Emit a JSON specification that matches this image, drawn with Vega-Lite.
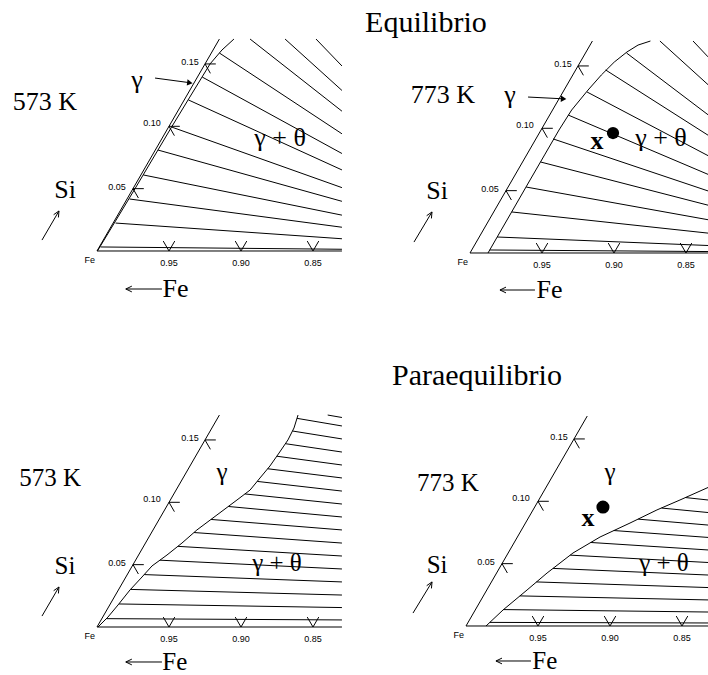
{
"$schema":"https://vega.github.io/schema/vega-lite/v6.json",
"padding":0,
"background":"white",
"config":{"view":{"stroke":null}},
"columns":2,
"spacing":0,
"bounds":"flush",
"resolve":{"scale":{"x":"independent","y":"independent"}},
"concat":[
{"width":354,"height":340,
"encoding":{"x":{"field":"u","type":"quantitative","scale":{"domain":[-6.736,17.847],"nice":false,"zero":false},"axis":null},
"y":{"field":"v","type":"quantitative","scale":{"domain":[-6.181,17.431],"nice":false,"zero":false},"axis":null}},
"layer":[
{"data":{"values":[
{"u":0,"v":0,"u2":8.5,"v2":14.72},{"u":0,"v":0,"u2":17.01,"v2":0},
{"u":0.24,"v":0.28,"u2":17.01,"v2":0.12},{"u":1.29,"v":1.94,"u2":17.01,"v2":0.85},{"u":2.26,"v":3.61,"u2":17.01,"v2":1.65},
{"u":3.22,"v":5.28,"u2":17.01,"v2":2.49},{"u":4.24,"v":7.01,"u2":17.01,"v2":3.45},{"u":5.18,"v":8.61,"u2":17.01,"v2":4.4},
{"u":6.35,"v":10.49,"u2":17.01,"v2":5.63},{"u":7.31,"v":12.08,"u2":17.01,"v2":6.77},{"u":8.5,"v":13.75,"u2":17.01,"v2":8.14},
{"u":10.63,"v":14.72,"u2":17.01,"v2":9.71},{"u":13.06,"v":14.72,"u2":17.01,"v2":11.15},{"u":15.21,"v":14.72,"u2":17.01,"v2":12.85},
{"u":2.5,"v":4.33,"u2":3.25,"v2":4.33},{"u":2.5,"v":4.33,"u2":2.875,"v2":3.68},{"u":5,"v":8.66,"u2":5.75,"v2":8.66},{"u":5,"v":8.66,"u2":5.375,"v2":8.01},{"u":7.5,"v":12.99,"u2":8.25,"v2":12.99},{"u":7.5,"v":12.99,"u2":7.875,"v2":12.34},
{"u":5,"v":0,"u2":4.6,"v2":0.69},{"u":5,"v":0,"u2":5.4,"v2":0.69},{"u":10,"v":0,"u2":9.6,"v2":0.69},{"u":10,"v":0,"u2":10.4,"v2":0.69},{"u":15,"v":0,"u2":14.6,"v2":0.69},{"u":15,"v":0,"u2":15.4,"v2":0.69},
{"u":4.03,"v":12.01,"u2":6.35,"v2":11.7},
{"u":-3.82,"v":0.76,"u2":-2.64,"v2":2.78},{"u":-2.64,"v":2.78,"u2":-2.68,"v2":2.33},{"u":-2.64,"v":2.78,"u2":-3.01,"v2":2.52},
{"u":2.0,"v":-2.64,"u2":4.51,"v2":-2.64},{"u":2.0,"v":-2.64,"u2":2.42,"v2":-2.44},{"u":2.0,"v":-2.64,"u2":2.42,"v2":-2.84}
]},"mark":{"type":"rule","color":"black","strokeWidth":1},"encoding":{"x2":{"field":"u2"},"y2":{"field":"v2"}}},
{"data":{"values":[
{"i":0,"u":0.03,"v":0},{"i":1,"u":2.63,"v":4.31},{"i":2,"u":5.18,"v":8.61},{"i":3,"u":6.41,"v":10.63},{"i":4,"u":7.85,"v":12.99},{"i":5,"u":8.68,"v":13.96},{"i":6,"u":9.51,"v":14.72}
]},"mark":{"type":"line","color":"black","strokeWidth":1},"encoding":{"order":{"field":"i","type":"quantitative"}}},
{"data":{"values":[
{"t":"0.15","u":6.46,"v":13.13},{"t":"0.10","u":3.82,"v":8.89},{"t":"0.05","u":1.39,"v":4.44},{"t":"0.95","u":5,"v":-0.8},{"t":"0.90","u":10,"v":-0.8},{"t":"0.85","u":15,"v":-0.8},{"t":"Fe","u":-0.5,"v":-0.65}
]},"mark":{"type":"text","font":"Liberation Sans","fontSize":9,"color":"black"},"encoding":{"text":{"field":"t"}}},
{"data":{"values":[
{"t":"573 K","u":-3.61,"v":10.35},{"t":"γ","u":2.78,"v":11.88},{"t":"γ + θ","u":12.71,"v":7.85},{"t":"Si","u":-2.22,"v":4.24},{"t":"Fe","u":5.45,"v":-2.64}
]},"mark":{"type":"text","font":"Liberation Serif","fontSize":26,"color":"black"},"encoding":{"text":{"field":"t"}}},
{"data":{"values":[{"u":6.45,"v":11.68}]},"mark":{"type":"point","shape":"triangle-right","angle":7,"size":40,"filled":true,"color":"black","opacity":1},"encoding":{}}
]},
{"width":354,"height":340,
"encoding":{"x":{"field":"u","type":"quantitative","scale":{"domain":[-8.056,16.528],"nice":false,"zero":false},"axis":null},
"y":{"field":"v","type":"quantitative","scale":{"domain":[-6.042,17.569],"nice":false,"zero":false},"axis":null}},
"layer":[
{"data":{"values":[
{"u":0,"v":0,"u2":8.5,"v2":14.72},{"u":0,"v":0,"u2":16.53,"v2":0},
{"u":1.37,"v":0.21,"u2":16.53,"v2":0.1},{"u":1.89,"v":1.11,"u2":16.53,"v2":0.52},{"u":2.9,"v":2.85,"u2":16.53,"v2":1.38},
{"u":3.9,"v":4.58,"u2":16.53,"v2":2.31},{"u":4.9,"v":6.32,"u2":16.53,"v2":3.32},{"u":5.78,"v":7.92,"u2":16.53,"v2":4.31},
{"u":6.82,"v":9.58,"u2":16.53,"v2":5.46},{"u":8.13,"v":11.18,"u2":16.53,"v2":6.76},{"u":9.42,"v":12.71,"u2":16.53,"v2":8.18},
{"u":10.87,"v":13.89,"u2":16.53,"v2":9.6},{"u":13.19,"v":14.72,"u2":16.53,"v2":11.69},{"u":15.49,"v":14.72,"u2":16.53,"v2":13.62},
{"u":2.5,"v":4.33,"u2":3.25,"v2":4.33},{"u":2.5,"v":4.33,"u2":2.875,"v2":3.68},{"u":5,"v":8.66,"u2":5.75,"v2":8.66},{"u":5,"v":8.66,"u2":5.375,"v2":8.01},{"u":7.5,"v":12.99,"u2":8.25,"v2":12.99},{"u":7.5,"v":12.99,"u2":7.875,"v2":12.34},
{"u":5,"v":0,"u2":4.6,"v2":0.69},{"u":5,"v":0,"u2":5.4,"v2":0.69},{"u":10,"v":0,"u2":9.6,"v2":0.69},{"u":10,"v":0,"u2":10.4,"v2":0.69},{"u":15,"v":0,"u2":14.6,"v2":0.69},{"u":15,"v":0,"u2":15.4,"v2":0.69},
{"u":4.03,"v":10.83,"u2":6.4,"v2":10.71},
{"u":-3.89,"v":0.76,"u2":-2.64,"v2":2.85},{"u":-2.64,"v":2.85,"u2":-2.68,"v2":2.4},{"u":-2.64,"v":2.85,"u2":-3.01,"v2":2.59},
{"u":2.08,"v":-2.57,"u2":4.51,"v2":-2.57},{"u":2.08,"v":-2.57,"u2":2.5,"v2":-2.37},{"u":2.08,"v":-2.57,"u2":2.5,"v2":-2.77}
]},"mark":{"type":"rule","color":"black","strokeWidth":1},"encoding":{"x2":{"field":"u2"},"y2":{"field":"v2"}}},
{"data":{"values":[
{"i":0,"u":1.25,"v":0},{"i":1,"u":2.17,"v":1.6},{"i":2,"u":3.17,"v":3.33},{"i":3,"u":4.17,"v":5.07},{"i":4,"u":5.18,"v":6.81},
{"i":5,"u":6.18,"v":8.54},{"i":6,"u":7.06,"v":9.93},{"i":7,"u":8.2,"v":11.32},{"i":8,"u":9.12,"v":12.36},{"i":9,"u":10.02,"v":13.26},
{"i":10,"u":10.9,"v":13.96},{"i":11,"u":11.67,"v":14.44},{"i":12,"u":12.53,"v":14.72}
]},"mark":{"type":"line","color":"black","strokeWidth":1},"encoding":{"order":{"field":"i","type":"quantitative"}}},
{"data":{"values":[
{"t":"0.15","u":6.46,"v":13.13},{"t":"0.10","u":3.82,"v":8.89},{"t":"0.05","u":1.39,"v":4.44},{"t":"0.95","u":5,"v":-0.8},{"t":"0.90","u":10,"v":-0.8},{"t":"0.85","u":15,"v":-0.8},{"t":"Fe","u":-0.5,"v":-0.65}
]},"mark":{"type":"text","font":"Liberation Sans","fontSize":9,"color":"black"},"encoding":{"text":{"field":"t"}}},
{"data":{"values":[
{"t":"773 K","u":-1.88,"v":10.97},{"t":"γ","u":2.78,"v":10.97},{"t":"γ + θ","u":13.26,"v":7.99},{"t":"Si","u":-2.29,"v":4.31},{"t":"Fe","u":5.52,"v":-2.57}
]},"mark":{"type":"text","font":"Liberation Serif","fontSize":26,"color":"black"},"encoding":{"text":{"field":"t"}}},
{"data":{"values":[{"t":"Equilibrio","u":-3.06,"v":15.97}]},"mark":{"type":"text","font":"Liberation Serif","fontSize":30,"color":"black"},"encoding":{"text":{"field":"t"}}},
{"data":{"values":[{"t":"x","u":8.82,"v":7.78}]},"mark":{"type":"text","font":"Liberation Serif","fontSize":26,"fontWeight":"bold","color":"black"},"encoding":{"text":{"field":"t"}}},
{"data":{"values":[{"u":9.93,"v":8.33}]},"mark":{"type":"point","shape":"circle","size":150,"filled":true,"color":"black","opacity":1},"encoding":{}},
{"data":{"values":[{"u":6.5,"v":10.7}]},"mark":{"type":"point","shape":"triangle-right","angle":3,"size":40,"filled":true,"color":"black","opacity":1},"encoding":{}}
]},
{"width":354,"height":335,
"encoding":{"x":{"field":"u","type":"quantitative","scale":{"domain":[-6.736,17.847],"nice":false,"zero":false},"axis":null},
"y":{"field":"v","type":"quantitative","scale":{"domain":[-3.333,19.931],"nice":false,"zero":false},"axis":null}},
"layer":[
{"data":{"values":[
{"u":0,"v":0,"u2":8.5,"v2":14.72},{"u":0,"v":0,"u2":17.01,"v2":0},
{"u":0.65,"v":0.58,"u2":17.01,"v2":0.49},{"u":1.53,"v":1.6,"u2":17.01,"v2":1.35},{"u":2.33,"v":2.61,"u2":17.01,"v2":2.22},
{"u":3.28,"v":3.64,"u2":17.01,"v2":3.13},{"u":4.38,"v":4.64,"u2":17.01,"v2":4.03},{"u":5.63,"v":5.6,"u2":17.01,"v2":4.93},
{"u":6.74,"v":6.56,"u2":17.01,"v2":5.83},{"u":7.92,"v":7.47,"u2":17.01,"v2":6.74},{"u":9.12,"v":8.37,"u2":17.01,"v2":7.64},
{"u":10.27,"v":9.24,"u2":17.01,"v2":8.54},{"u":11.13,"v":10.11,"u2":17.01,"v2":9.44},{"u":11.85,"v":10.99,"u2":17.01,"v2":10.35},
{"u":12.49,"v":11.86,"u2":17.01,"v2":11.25},{"u":13.09,"v":12.73,"u2":17.01,"v2":12.15},{"u":13.58,"v":13.61,"u2":17.01,"v2":13.06},
{"u":13.89,"v":14.49,"u2":17.01,"v2":13.96},{"u":16.02,"v":14.72,"u2":17.01,"v2":14.55},
{"u":2.5,"v":4.33,"u2":3.25,"v2":4.33},{"u":2.5,"v":4.33,"u2":2.875,"v2":3.68},{"u":5,"v":8.66,"u2":5.75,"v2":8.66},{"u":5,"v":8.66,"u2":5.375,"v2":8.01},{"u":7.5,"v":12.99,"u2":8.25,"v2":12.99},{"u":7.5,"v":12.99,"u2":7.875,"v2":12.34},
{"u":5,"v":0,"u2":4.6,"v2":0.69},{"u":5,"v":0,"u2":5.4,"v2":0.69},{"u":10,"v":0,"u2":9.6,"v2":0.69},{"u":10,"v":0,"u2":10.4,"v2":0.69},{"u":15,"v":0,"u2":14.6,"v2":0.69},{"u":15,"v":0,"u2":15.4,"v2":0.69},
{"u":-3.82,"v":0.76,"u2":-2.64,"v2":2.78},{"u":-2.64,"v":2.78,"u2":-2.68,"v2":2.33},{"u":-2.64,"v":2.78,"u2":-3.01,"v2":2.52},
{"u":2.0,"v":-2.43,"u2":4.51,"v2":-2.43},{"u":2.0,"v":-2.43,"u2":2.42,"v2":-2.23},{"u":2.0,"v":-2.43,"u2":2.42,"v2":-2.63}
]},"mark":{"type":"rule","color":"black","strokeWidth":1},"encoding":{"x2":{"field":"u2"},"y2":{"field":"v2"}}},
{"data":{"values":[
{"i":0,"u":0.07,"v":0},{"i":1,"u":0.76,"v":0.69},{"i":2,"u":1.46,"v":1.53},{"i":3,"u":2.29,"v":2.57},{"i":4,"u":3.06,"v":3.4},
{"i":5,"u":3.82,"v":4.24},{"i":6,"u":4.86,"v":5.0},{"i":7,"u":5.9,"v":5.83},{"i":8,"u":6.94,"v":6.74},{"i":9,"u":8.33,"v":7.78},
{"i":10,"u":9.72,"v":8.82},{"i":11,"u":10.63,"v":9.51},{"i":12,"u":11.32,"v":10.35},{"i":13,"u":12.01,"v":11.18},{"i":14,"u":12.64,"v":12.08},
{"i":15,"u":13.26,"v":12.99},{"i":16,"u":13.68,"v":13.82},{"i":17,"u":13.96,"v":14.72}
]},"mark":{"type":"line","color":"black","strokeWidth":1},"encoding":{"order":{"field":"i","type":"quantitative"}}},
{"data":{"values":[
{"t":"0.15","u":6.46,"v":13.13},{"t":"0.10","u":3.82,"v":8.89},{"t":"0.05","u":1.39,"v":4.44},{"t":"0.95","u":5,"v":-0.8},{"t":"0.90","u":10,"v":-0.8},{"t":"0.85","u":15,"v":-0.8},{"t":"Fe","u":-0.5,"v":-0.65}
]},"mark":{"type":"text","font":"Liberation Sans","fontSize":9,"color":"black"},"encoding":{"text":{"field":"t"}}},
{"data":{"values":[
{"t":"573 K","u":-3.26,"v":10.35},{"t":"γ","u":8.68,"v":10.76},{"t":"γ + θ","u":12.5,"v":4.44},{"t":"Si","u":-2.22,"v":4.24},{"t":"Fe","u":5.4,"v":-2.43}
]},"mark":{"type":"text","font":"Liberation Serif","fontSize":25,"color":"black"},"encoding":{"text":{"field":"t"}}}
]},
{"width":354,"height":335,
"encoding":{"x":{"field":"u","type":"quantitative","scale":{"domain":[-7.778,16.806],"nice":false,"zero":false},"axis":null},
"y":{"field":"v","type":"quantitative","scale":{"domain":[-3.403,19.861],"nice":false,"zero":false},"axis":null}},
"layer":[
{"data":{"values":[
{"u":0,"v":0,"u2":8.42,"v2":14.58},{"u":0,"v":0,"u2":16.81,"v2":0},
{"u":1.65,"v":0.25,"u2":16.81,"v2":0.21},{"u":2.6,"v":1.14,"u2":16.81,"v2":0.97},{"u":3.74,"v":2.09,"u2":16.81,"v2":1.81},
{"u":4.89,"v":3.06,"u2":16.81,"v2":2.67},{"u":6.04,"v":4.0,"u2":16.81,"v2":3.54},{"u":7.24,"v":4.92,"u2":16.81,"v2":4.41},
{"u":8.66,"v":5.8,"u2":16.81,"v2":5.28},{"u":10.26,"v":6.63,"u2":16.81,"v2":6.15},{"u":11.96,"v":7.42,"u2":16.81,"v2":7.01},
{"u":13.58,"v":8.19,"u2":16.81,"v2":7.88},{"u":15.24,"v":8.92,"u2":16.81,"v2":8.75},
{"u":2.5,"v":4.33,"u2":3.25,"v2":4.33},{"u":2.5,"v":4.33,"u2":2.875,"v2":3.68},{"u":5,"v":8.66,"u2":5.75,"v2":8.66},{"u":5,"v":8.66,"u2":5.375,"v2":8.01},{"u":7.5,"v":12.99,"u2":8.25,"v2":12.99},{"u":7.5,"v":12.99,"u2":7.875,"v2":12.34},
{"u":5,"v":0,"u2":4.6,"v2":0.69},{"u":5,"v":0,"u2":5.4,"v2":0.69},{"u":10,"v":0,"u2":9.6,"v2":0.69},{"u":10,"v":0,"u2":10.4,"v2":0.69},{"u":15,"v":0,"u2":14.6,"v2":0.69},{"u":15,"v":0,"u2":15.4,"v2":0.69},
{"u":-3.68,"v":0.9,"u2":-2.36,"v2":3.06},{"u":-2.36,"v":3.06,"u2":-2.4,"v2":2.61},{"u":-2.36,"v":3.06,"u2":-2.73,"v2":2.8},
{"u":2.08,"v":-2.43,"u2":4.51,"v2":-2.43},{"u":2.08,"v":-2.43,"u2":2.5,"v2":-2.23},{"u":2.08,"v":-2.43,"u2":2.5,"v2":-2.63}
]},"mark":{"type":"rule","color":"black","strokeWidth":1},"encoding":{"x2":{"field":"u2"},"y2":{"field":"v2"}}},
{"data":{"values":[
{"i":0,"u":1.39,"v":0},{"i":1,"u":2.57,"v":1.11},{"i":2,"u":4.24,"v":2.5},{"i":3,"u":5.63,"v":3.68},{"i":4,"u":7.43,"v":5.07},
{"i":5,"u":9.31,"v":6.18},{"i":6,"u":11.39,"v":7.15},{"i":7,"u":13.26,"v":8.06},{"i":8,"u":14.86,"v":8.75},{"i":9,"u":16.81,"v":9.62}
]},"mark":{"type":"line","color":"black","strokeWidth":1},"encoding":{"order":{"field":"i","type":"quantitative"}}},
{"data":{"values":[
{"t":"0.15","u":6.46,"v":13.13},{"t":"0.10","u":3.82,"v":8.89},{"t":"0.05","u":1.39,"v":4.44},{"t":"0.95","u":5,"v":-0.8},{"t":"0.90","u":10,"v":-0.8},{"t":"0.85","u":15,"v":-0.8},{"t":"Fe","u":-0.5,"v":-0.65}
]},"mark":{"type":"text","font":"Liberation Sans","fontSize":9,"color":"black"},"encoding":{"text":{"field":"t"}}},
{"data":{"values":[
{"t":"773 K","u":-1.25,"v":9.93},{"t":"γ","u":10.0,"v":10.69},{"t":"γ + θ","u":13.75,"v":4.38},{"t":"Si","u":-2.01,"v":4.24},{"t":"Fe","u":5.47,"v":-2.43}
]},"mark":{"type":"text","font":"Liberation Serif","fontSize":25,"color":"black"},"encoding":{"text":{"field":"t"}}},
{"data":{"values":[{"t":"Paraequilibrio","u":0.76,"v":17.36}]},"mark":{"type":"text","font":"Liberation Serif","fontSize":30,"color":"black"},"encoding":{"text":{"field":"t"}}},
{"data":{"values":[{"t":"x","u":8.47,"v":7.5}]},"mark":{"type":"text","font":"Liberation Serif","fontSize":26,"fontWeight":"bold","color":"black"},"encoding":{"text":{"field":"t"}}},
{"data":{"values":[{"u":9.51,"v":8.26}]},"mark":{"type":"point","shape":"circle","size":170,"filled":true,"color":"black","opacity":1},"encoding":{}}
]}
]
}
